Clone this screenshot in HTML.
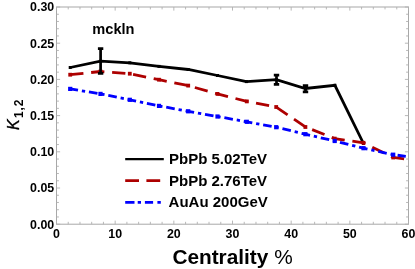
<!DOCTYPE html>
<html><head><meta charset="utf-8"><title>chart</title>
<style>
html,body{margin:0;padding:0;background:#fff;}
body{width:415px;height:269px;overflow:hidden;}
svg{display:block;font-family:"Liberation Sans",sans-serif;will-change:transform;}
</style></head><body>
<svg width="415" height="269" viewBox="0 0 415 269">
<rect width="415" height="269" fill="#fff"/>
<rect x="56.5" y="7.0" width="352.0" height="217.2" fill="none" stroke="#a8a8a8" stroke-width="1"/>
<path d="M56.50 224.2 v-3.6 M56.50 7.0 v3.6 M68.23 224.2 v-2.4 M68.23 7.0 v2.4 M79.97 224.2 v-2.4 M79.97 7.0 v2.4 M91.70 224.2 v-2.4 M91.70 7.0 v2.4 M103.43 224.2 v-2.4 M103.43 7.0 v2.4 M115.17 224.2 v-3.6 M115.17 7.0 v3.6 M126.90 224.2 v-2.4 M126.90 7.0 v2.4 M138.63 224.2 v-2.4 M138.63 7.0 v2.4 M150.37 224.2 v-2.4 M150.37 7.0 v2.4 M162.10 224.2 v-2.4 M162.10 7.0 v2.4 M173.83 224.2 v-3.6 M173.83 7.0 v3.6 M185.57 224.2 v-2.4 M185.57 7.0 v2.4 M197.30 224.2 v-2.4 M197.30 7.0 v2.4 M209.03 224.2 v-2.4 M209.03 7.0 v2.4 M220.77 224.2 v-2.4 M220.77 7.0 v2.4 M232.50 224.2 v-3.6 M232.50 7.0 v3.6 M244.23 224.2 v-2.4 M244.23 7.0 v2.4 M255.97 224.2 v-2.4 M255.97 7.0 v2.4 M267.70 224.2 v-2.4 M267.70 7.0 v2.4 M279.43 224.2 v-2.4 M279.43 7.0 v2.4 M291.17 224.2 v-3.6 M291.17 7.0 v3.6 M302.90 224.2 v-2.4 M302.90 7.0 v2.4 M314.63 224.2 v-2.4 M314.63 7.0 v2.4 M326.37 224.2 v-2.4 M326.37 7.0 v2.4 M338.10 224.2 v-2.4 M338.10 7.0 v2.4 M349.83 224.2 v-3.6 M349.83 7.0 v3.6 M361.57 224.2 v-2.4 M361.57 7.0 v2.4 M373.30 224.2 v-2.4 M373.30 7.0 v2.4 M385.03 224.2 v-2.4 M385.03 7.0 v2.4 M396.77 224.2 v-2.4 M396.77 7.0 v2.4 M408.50 224.2 v-3.6 M408.50 7.0 v3.6 M56.5 224.20 h3.6 M408.5 224.20 h-3.6 M56.5 216.96 h2.4 M408.5 216.96 h-2.4 M56.5 209.72 h2.4 M408.5 209.72 h-2.4 M56.5 202.48 h2.4 M408.5 202.48 h-2.4 M56.5 195.24 h2.4 M408.5 195.24 h-2.4 M56.5 188.00 h3.6 M408.5 188.00 h-3.6 M56.5 180.76 h2.4 M408.5 180.76 h-2.4 M56.5 173.52 h2.4 M408.5 173.52 h-2.4 M56.5 166.28 h2.4 M408.5 166.28 h-2.4 M56.5 159.04 h2.4 M408.5 159.04 h-2.4 M56.5 151.80 h3.6 M408.5 151.80 h-3.6 M56.5 144.56 h2.4 M408.5 144.56 h-2.4 M56.5 137.32 h2.4 M408.5 137.32 h-2.4 M56.5 130.08 h2.4 M408.5 130.08 h-2.4 M56.5 122.84 h2.4 M408.5 122.84 h-2.4 M56.5 115.60 h3.6 M408.5 115.60 h-3.6 M56.5 108.36 h2.4 M408.5 108.36 h-2.4 M56.5 101.12 h2.4 M408.5 101.12 h-2.4 M56.5 93.88 h2.4 M408.5 93.88 h-2.4 M56.5 86.64 h2.4 M408.5 86.64 h-2.4 M56.5 79.40 h3.6 M408.5 79.40 h-3.6 M56.5 72.16 h2.4 M408.5 72.16 h-2.4 M56.5 64.92 h2.4 M408.5 64.92 h-2.4 M56.5 57.68 h2.4 M408.5 57.68 h-2.4 M56.5 50.44 h2.4 M408.5 50.44 h-2.4 M56.5 43.20 h3.6 M408.5 43.20 h-3.6 M56.5 35.96 h2.4 M408.5 35.96 h-2.4 M56.5 28.72 h2.4 M408.5 28.72 h-2.4 M56.5 21.48 h2.4 M408.5 21.48 h-2.4 M56.5 14.24 h2.4 M408.5 14.24 h-2.4 M56.5 7.00 h3.6 M408.5 7.00 h-3.6" stroke="#b0b0b0" stroke-width="0.9" fill="none"/>
<g font-size="12.4" font-weight="bold" fill="#000"><text x="56.5" y="238.3" text-anchor="middle">0</text><text x="115.2" y="238.3" text-anchor="middle">10</text><text x="173.8" y="238.3" text-anchor="middle">20</text><text x="232.5" y="238.3" text-anchor="middle">30</text><text x="291.2" y="238.3" text-anchor="middle">40</text><text x="349.8" y="238.3" text-anchor="middle">50</text><text x="408.5" y="238.3" text-anchor="middle">60</text><text x="54.2" y="228.5" text-anchor="end">0.00</text><text x="54.2" y="192.3" text-anchor="end">0.05</text><text x="54.2" y="156.1" text-anchor="end">0.10</text><text x="54.2" y="119.9" text-anchor="end">0.15</text><text x="54.2" y="83.7" text-anchor="end">0.20</text><text x="54.2" y="47.5" text-anchor="end">0.25</text><text x="54.2" y="11.3" text-anchor="end">0.30</text></g>
<!-- curves -->
<polyline points="70.2,67.5 100.5,61.2 129.8,62.8 159.0,66.4 188.2,69.5 217.5,75.5 246.4,81.6 276.4,79.6 305.4,88.5 334.9,85.3 363.5,143.5" fill="none" stroke="#000" stroke-width="2.8" stroke-linejoin="miter"/>
<rect x="68.7" y="66.0" width="3.0" height="3.0" fill="#000"/><rect x="99.0" y="59.7" width="3.0" height="3.0" fill="#000"/><rect x="128.3" y="61.3" width="3.0" height="3.0" fill="#000"/><rect x="157.5" y="64.9" width="3.0" height="3.0" fill="#000"/><rect x="186.7" y="68.0" width="3.0" height="3.0" fill="#000"/><rect x="216.0" y="74.0" width="3.0" height="3.0" fill="#000"/><rect x="244.9" y="80.1" width="3.0" height="3.0" fill="#000"/><rect x="274.9" y="78.1" width="3.0" height="3.0" fill="#000"/><rect x="303.9" y="87.0" width="3.0" height="3.0" fill="#000"/><rect x="333.4" y="83.8" width="3.0" height="3.0" fill="#000"/><rect x="362.0" y="142.0" width="3.0" height="3.0" fill="#000"/>
<polyline points="70.2,74.7 100.5,71.5 129.8,73.7 159.0,79.7 188.2,85.6 217.5,93.9 246.8,101.4 276.2,107.0 305.4,127.0 334.7,138.6 363.5,142.8 393.2,157.5 405.0,159.1" fill="none" stroke="#ad0000" stroke-width="2.8" stroke-dasharray="13.3 7.76"/>
<rect x="68.3" y="72.8" width="3.8" height="3.8" fill="#ad0000"/><rect x="98.6" y="69.6" width="3.8" height="3.8" fill="#ad0000"/><rect x="127.9" y="71.8" width="3.8" height="3.8" fill="#ad0000"/><rect x="157.1" y="77.8" width="3.8" height="3.8" fill="#ad0000"/><rect x="186.3" y="83.7" width="3.8" height="3.8" fill="#ad0000"/><rect x="215.6" y="92.0" width="3.8" height="3.8" fill="#ad0000"/><rect x="244.9" y="99.5" width="3.8" height="3.8" fill="#ad0000"/><rect x="274.3" y="105.1" width="3.8" height="3.8" fill="#ad0000"/><rect x="303.5" y="125.1" width="3.8" height="3.8" fill="#ad0000"/><rect x="332.8" y="136.7" width="3.8" height="3.8" fill="#ad0000"/><rect x="361.6" y="140.9" width="3.8" height="3.8" fill="#ad0000"/><rect x="391.3" y="155.6" width="3.8" height="3.8" fill="#ad0000"/>
<polyline points="70.2,88.9 100.5,93.9 129.8,99.8 159.0,105.9 188.2,111.3 217.5,116.5 246.8,121.8 276.2,127.2 305.4,134.2 334.7,141.0 363.5,148.2 393.2,154.7 405.8,156.3" fill="none" stroke="#0000ff" stroke-width="2.8" stroke-dasharray="8.65 3.9 3.3 3.85" stroke-dashoffset="0.73"/>
<rect x="68.1" y="86.8" width="4.2" height="4.2" fill="#0000ff"/><rect x="98.4" y="91.8" width="4.2" height="4.2" fill="#0000ff"/><rect x="127.7" y="97.7" width="4.2" height="4.2" fill="#0000ff"/><rect x="156.9" y="103.8" width="4.2" height="4.2" fill="#0000ff"/><rect x="186.1" y="109.2" width="4.2" height="4.2" fill="#0000ff"/><rect x="215.4" y="114.4" width="4.2" height="4.2" fill="#0000ff"/><rect x="244.7" y="119.7" width="4.2" height="4.2" fill="#0000ff"/><rect x="274.1" y="125.1" width="4.2" height="4.2" fill="#0000ff"/><rect x="303.3" y="132.1" width="4.2" height="4.2" fill="#0000ff"/><rect x="332.6" y="138.9" width="4.2" height="4.2" fill="#0000ff"/><rect x="361.4" y="146.1" width="4.2" height="4.2" fill="#0000ff"/><rect x="391.1" y="152.6" width="4.2" height="4.2" fill="#0000ff"/>
<g stroke="#000" stroke-width="2.7" fill="none">
<path d="M100.6 47.6 V74.4 M97.9 48.7 h5.4 M97.9 73.3 h5.4"/>
<path d="M276.5 74 V85.5 M273.8 75.1 h5.4 M273.8 84.4 h5.4"/>
<path d="M305.5 84.5 V93 M302.8 85.6 h5.4 M302.8 91.9 h5.4"/>
</g>
<!-- legend -->
<path d="M125.2 159.1 H163.8" stroke="#000" stroke-width="2.2"/>
<path d="M125.2 180.6 H163.8" stroke="#ad0000" stroke-width="2.7" stroke-dasharray="13.8 7.4"/>
<path d="M125.2 202.4 H134.5 M137.7 202.4 H141 M144.9 202.4 H153.1 M157.4 202.4 H160.8" stroke="#0000ff" stroke-width="2.7"/>
<g font-size="15" font-weight="bold" fill="#000">
<text x="169" y="164">PbPb 5.02TeV</text>
<text x="169" y="185.6">PbPb 2.76TeV</text>
<text x="168.6" y="207">AuAu 200GeV</text>
</g>
<text x="92.3" y="33.5" font-size="14.6" font-weight="bold">mckln</text>
<text x="172.4" y="264.3" font-size="20.8" font-weight="bold">Centrality <tspan font-weight="normal" dx="0.2">%</tspan></text>
<g transform="translate(18.8,130) rotate(-90)">
<text x="0" y="0" font-size="16" font-style="italic" stroke="#000" stroke-width="0.3">K</text>
<text x="12.1" y="3.8" font-size="12" font-weight="bold" letter-spacing="0.8">1,2</text>
</g>
</svg>
</body></html>
